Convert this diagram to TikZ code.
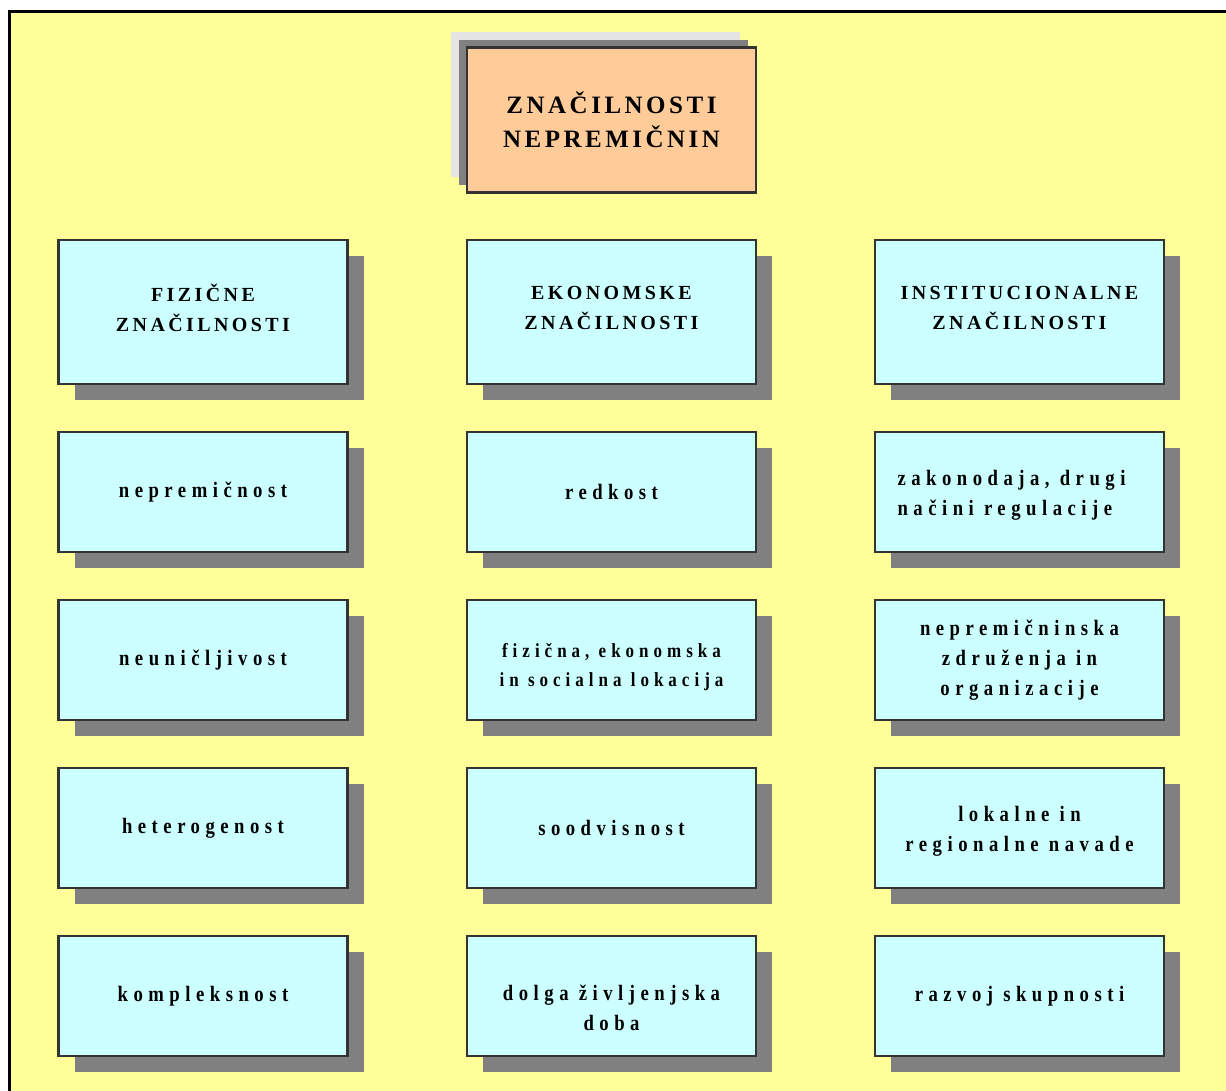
\documentclass[tikz,border=0pt]{standalone}
\usepackage{fontspec}
\setmainfont{Liberation Serif}
\newfontfamily\cardfont{Liberation Serif}[FakeStretch=0.85, LetterSpace=25]
\newfontfamily\capsfont{Liberation Serif}[LetterSpace=17]
\newfontfamily\headfont{Liberation Serif}[LetterSpace=14]
\usetikzlibrary{shadows}

\definecolor{bgyellow}{HTML}{FFFF99}
\definecolor{boxcyan}{HTML}{CCFFFF}
\definecolor{titleorange}{HTML}{FFCC99}
\definecolor{shadowgray}{HTML}{808080}
\definecolor{paleshade}{HTML}{E5E5E5}
\definecolor{edgegray}{HTML}{333333}

\begin{document}
\begin{tikzpicture}[
  x=1pt, y=-1pt,
  card/.style={draw=edgegray, line width=2.5pt, fill=boxcyan,
    minimum width=289pt, minimum height=120pt, inner sep=0pt,
    align=center, font=\cardfont\bfseries\fontsize{22}{30}\selectfont,
    general shadow={shadow xshift=16pt, shadow yshift=-16pt, fill=shadowgray}},
  headcard/.style={card, minimum height=144pt},
  cardtext/.style={inner sep=0pt, align=center,
    font=\cardfont\bfseries\fontsize{22}{30}\selectfont},
  smalltext/.style={cardtext, font=\cardfont\bfseries\fontsize{20}{29}\selectfont},
  headtext/.style={cardtext, font=\capsfont\bfseries\fontsize{20}{30}\selectfont},
  titlecard/.style={draw=edgegray, line width=2.5pt, fill=titleorange,
    minimum width=289pt, minimum height=145pt, inner sep=0pt,
    align=center, font=\headfont\bfseries\fontsize{25}{34}\selectfont,
    general shadow={shadow xshift=-16pt, shadow yshift=15pt, fill=paleshade},
    general shadow={shadow xshift=-8pt, shadow yshift=7pt, fill=shadowgray}},
]
  \useasboundingbox (0,0) rectangle (1226,1091);
  \fill[white] (0,0) rectangle (1226,1091);
  % ozadje
  \fill[bgyellow] (9,11) rectangle (1226,1091);
  \draw[line width=3pt] (9.5,1091) -- (9.5,11.5) -- (1226,11.5);

  % naslov
  \node[titlecard] (title) at (611.5,120) {ZNAČILNOSTI\\NEPREMIČNIN};

  % glave stolpcev
  \node[headcard] (fizicne)   at (203,312)    {};
  \node[headcard] (ekonomske) at (611.5,312)  {};
  \node[headcard] (instit)    at (1019.5,312) {};
  \node[headtext] (fizicne-t)   at ([yshift=4pt]fizicne.center)   {FIZIČNE\\ZNAČILNOSTI};
  \node[headtext] (ekonomske-t) at ([yshift=4pt]ekonomske.center) {EKONOMSKE\\ZNAČILNOSTI};
  \node[headtext] (instit-t)    at ([yshift=4pt]instit.center)    {INSTITUCIONALNE\\ZNAČILNOSTI};

  % fizične značilnosti
  \node[card] (nepremicnost)  at (203,492)  {nepremičnost};
  \node[card] (neunicljivost) at (203,660)  {neuničljivost};
  \node[card] (heterogenost)  at (203,828)  {heterogenost};
  \node[card] (kompleksnost)  at (203,996)  {kompleksnost};

  % ekonomske značilnosti
  \node[card] (redkost)     at (611.5,492) {redkost};
  \node[card] (lokacija)    at (611.5,660) {};
  \node[card] (soodvisnost) at (611.5,828) {soodvisnost};
  \node[card] (doba)        at (611.5,996) {};
  \node[smalltext] (lokacija-t) at ([yshift=-7pt]lokacija.center) {fizična, ekonomska\\in socialna lokacija};
  \node[cardtext] (doba-t)      at ([yshift=-12pt]doba.center)    {dolga življenjska\\doba};

  % institucionalne značilnosti
  \node[card] (zakonodaja) at (1019.5,492) {};
  \node[card] (zdruzenja)  at (1019.5,660) {nepremičninska\\združenja in\\organizacije};
  \node[card] (navade)     at (1019.5,828) {};
  \node[card] (razvoj)     at (1019.5,996) {razvoj skupnosti};
  \node[cardtext, align=left] (zakonodaja-t) at ([xshift=-8pt, yshift=-3pt]zakonodaja.center) {zakonodaja, drugi\\načini regulacije};
  \node[cardtext] (navade-t) at ([yshift=-3pt]navade.center) {lokalne in\\regionalne navade};
\end{tikzpicture}
\end{document}
